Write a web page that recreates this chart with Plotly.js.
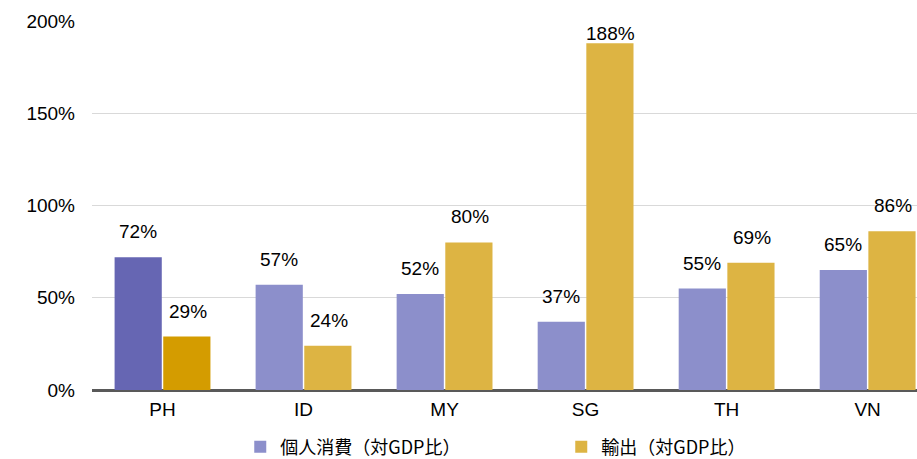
<!DOCTYPE html>
<html>
<head>
<meta charset="utf-8">
<script src="https://cdn.plot.ly/plotly-3.0.1.min.js"></script>
<style>body{margin:0;background:#fff}</style>
</head>
<body>
<div id="chart" style="width:917px;height:459px"></div>
<script>
// categories and values (% of GDP)
var countries = ["PH", "ID", "MY", "SG", "TH", "VN"];
var consumption = [72, 57, 52, 37, 55, 65];
var exports = [29, 24, 80, 188, 69, 86];
var consName = "個人消費（対GDP比）";
var expName = "輸出（対GDP比）";

var consLight = "#8c8fcb", consDark = "#6666b3";
var expLight = "#ddb443", expDark = "#d49c00";

// PH is highlighted
function colors(light, dark){
    return countries.map(function(c){ return c === "PH" ? dark : light; });
}

var trace1 = {
    x: countries, y: consumption, type: 'bar', name: consName, offsetgroup: 'a',
    marker: {color: colors(consLight, consDark)},
    showlegend: false, hoverinfo: 'none'
};
var trace2 = {
    x: countries, y: exports, type: 'bar', name: expName, offsetgroup: 'b',
    marker: {color: colors(expLight, expDark)},
    showlegend: false, hoverinfo: 'none'
};
// legend-only entries with the normal colours
var leg1 = {x: [null], y: [null], type: 'bar', name: consName, offsetgroup: 'a', marker: {color: consLight}};
var leg2 = {x: [null], y: [null], type: 'bar', name: expName, offsetgroup: 'b', marker: {color: expLight}};

// value labels above bars
var annotations = [];
countries.forEach(function(c, i){
    [[consumption[i], -25], [exports[i], 25]].forEach(function(p){
        annotations.push({
            x: c, y: p[0], xref: 'x', yref: 'y', xshift: p[1],
            yshift: p[0] > 180 ? -3 : 13,
            text: p[0] + '%', showarrow: false, yanchor: 'bottom',
            font: {size: 19, color: '#000'}
        });
    });
});

var layout = {
    width: 917, height: 459,
    margin: {l: 92, r: 0, t: 21, b: 69},
    font: {family: 'Liberation Sans, Arial, sans-serif', size: 19, color: '#000'},
    paper_bgcolor: '#fff', plot_bgcolor: '#fff',
    barmode: 'group', bargap: 0.31, bargroupgap: 0.03,
    xaxis: {
        range: [-0.5, 5.35], showgrid: false, ticks: '', ticklabelstandoff: 6,
        showline: false, fixedrange: true
    },
    yaxis: {
        range: [0, 200], dtick: 50, ticksuffix: '%',
        showgrid: true, gridcolor: '#d9d9d9', gridwidth: 1,
        zeroline: true, zerolinecolor: '#595959', zerolinewidth: 3,
        showline: false, ticklabelstandoff: 16, fixedrange: true
    },
    showlegend: true,
    legend: {
        orientation: 'h', xref: 'container', yref: 'container',
        x: 0.262, xanchor: 'left', y: 0.026, yanchor: 'middle',
        entrywidth: 276, entrywidthmode: 'pixels',
        font: {family: 'Noto Sans CJK JP, Liberation Sans, sans-serif', size: 18, color: '#000'}
    },
    annotations: annotations
};

Plotly.newPlot('chart', [trace1, trace2, leg1, leg2], layout, {displayModeBar: false, staticPlot: true});
</script>
</body>
</html>
